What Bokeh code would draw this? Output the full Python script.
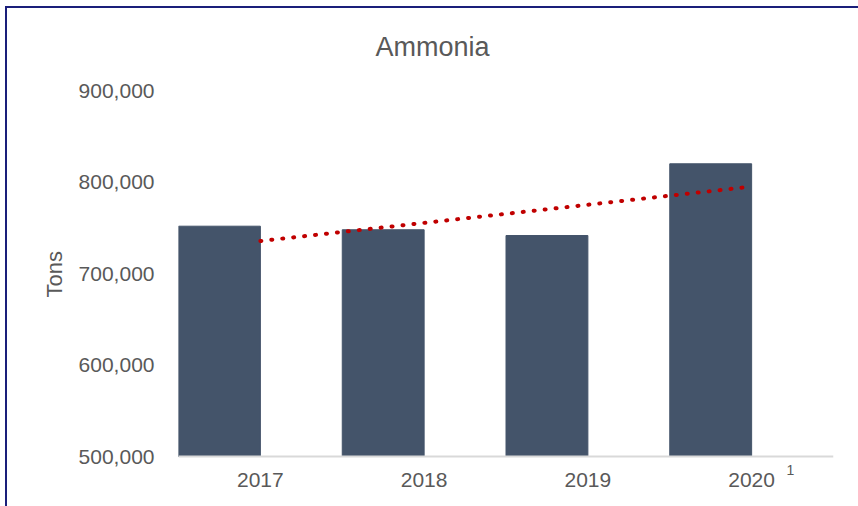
import numpy as np
from bokeh.plotting import figure
from bokeh.models import (ColumnDataSource, FixedTicker, NumeralTickFormatter,
                          Label, Range1d, Title)
from bokeh.transform import dodge
from bokeh.embed import file_html
from bokeh.resources import INLINE

# ---- data ----
years = ["2017", "2018", "2019", "2020"]
ammonia_tons = [751700, 747800, 741500, 819900]
y_ticks = [500000, 600000, 700000, 800000, 900000]
title_text = "Ammonia"
y_label = "Tons"
footnote = "1"

FONT = "Liberation Sans"
TXT = "#595959"
NAVY = "#1A1F7A"

# ---- layout (pixels) ----
W, H = 858, 506
FRAME_LEFT, FRAME_RIGHT, FRAME_TOP = 178, 833, 90
AXIS_Y = 456            # where the category axis sits
YLABEL_START = 297      # where the rotated value-axis title begins (its bottom)
# the frame runs to the bottom of the canvas so the footnote marker under the
# axis is not clipped; the y range is stretched so y_ticks[0] lands on AXIS_Y
span = (y_ticks[-1] - y_ticks[0]) * (H - FRAME_TOP) / (AXIS_Y - FRAME_TOP)
y_start = y_ticks[-1] - span

src = ColumnDataSource(dict(year=years, tons=ammonia_tons))

xi = np.arange(len(years))
slope, intercept = np.polyfit(xi, ammonia_tons, 1)
trend_src = ColumnDataSource(dict(year=[years[0], years[-1]],
                                  tons=[intercept, intercept + slope * xi[-1]]))

p = figure(x_range=years, y_range=Range1d(y_start, y_ticks[-1]),
           width=W, height=H, output_backend="svg", toolbar_location=None,
           min_border_left=FRAME_LEFT, min_border_right=W - FRAME_RIGHT,
           min_border_top=FRAME_TOP, min_border_bottom=0)

p.border_fill_color = None
p.background_fill_color = None
p.styles = {
    "background": (f"linear-gradient({NAVY},{NAVY}) 5px 6px / 2px 100% no-repeat, "
                   f"linear-gradient({NAVY},{NAVY}) 5px 6px / 100% 2px no-repeat, white"),
}

p.vbar(x=dodge("year", -0.25, range=p.x_range), top="tons", bottom=y_ticks[0],
       width=0.5, source=src, fill_color="#44546A", line_color="#44546A")

p.line(x="year", y="tons", source=trend_src, line_color="#C00000",
       line_width=4, line_dash="1 10", line_cap="round")

p.title.text = title_text
p.title.align = "left"
p.title.offset = 197
p.title.standoff = 57
p.title.text_font = FONT
p.title.text_font_size = "27px"
p.title.text_font_style = "normal"
p.title.text_color = TXT

p.xgrid.grid_line_color = None
p.ygrid.grid_line_color = None
p.outline_line_color = None

xa = p.xaxis[0]
xa.fixed_location = y_ticks[0]
xa.axis_line_color = "#D9D9D9"
xa.axis_line_width = 2
xa.major_tick_line_color = None
xa.minor_tick_line_color = None
xa.major_tick_out = 0
xa.major_tick_in = 0
xa.major_label_standoff = 16
xa.major_label_text_font = FONT
xa.major_label_text_font_size = "21px"
xa.major_label_text_color = TXT

ya = p.yaxis[0]
ya.ticker = FixedTicker(ticks=y_ticks)
ya.formatter = NumeralTickFormatter(format="0,0")
ya.axis_line_color = None
ya.major_tick_line_color = None
ya.minor_tick_line_color = None
ya.major_tick_out = 0
ya.major_tick_in = 0
ya.major_label_standoff = 24
ya.major_label_text_font = FONT
ya.major_label_text_font_size = "21px"
ya.major_label_text_color = TXT

p.add_layout(Title(text=y_label, align="left", offset=H - YLABEL_START,
                   standoff=18, text_font=FONT, text_font_size="22px",
                   text_font_style="normal", text_color=TXT), "left")

# footnote marker just under the axis, right of the last category
p.add_layout(Label(x=612, x_units="screen", y=y_ticks[0], y_offset=-13,
                   text=footnote, level="overlay",
                   text_font=FONT, text_font_size="14px", text_color=TXT,
                   text_align="center", text_baseline="middle",
                   background_fill_color="white", padding=6))

open("out.html", "w").write(file_html(p, INLINE))
